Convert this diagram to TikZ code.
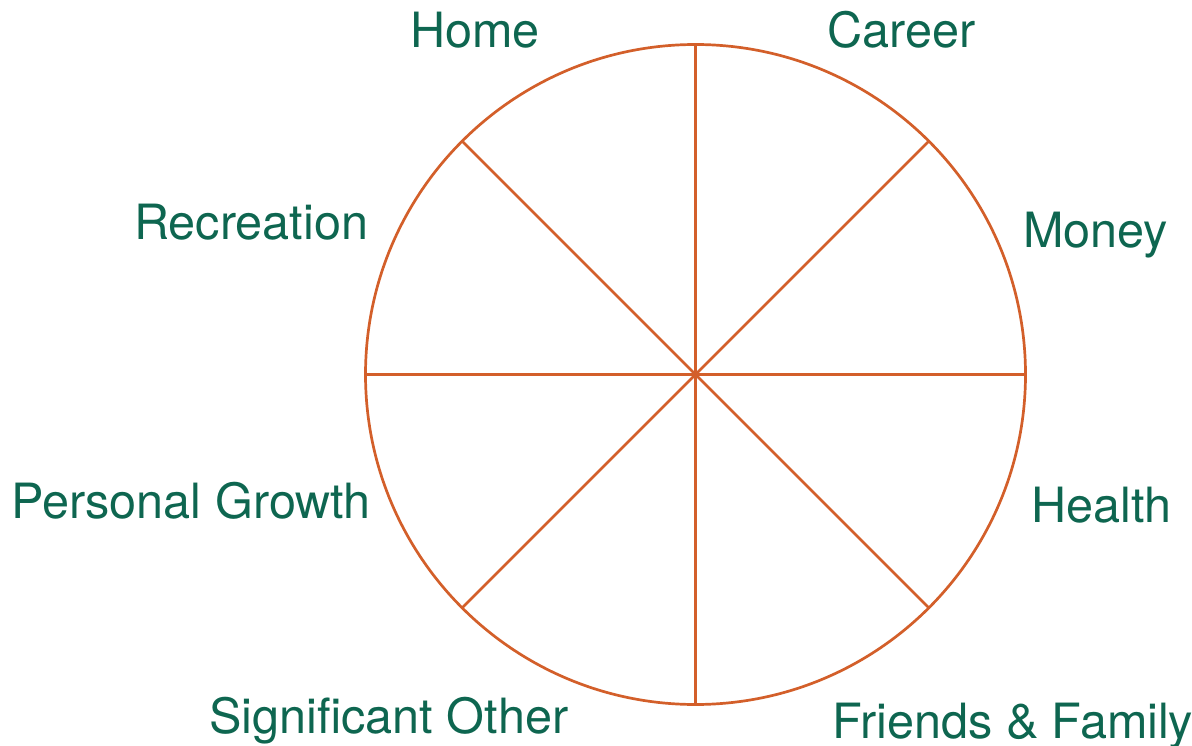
\documentclass[tikz,border=0pt]{standalone}
\usepackage{fontspec}
\setmainfont{TeX Gyre Heros}
\definecolor{labelgreen}{HTML}{0E6650}
\definecolor{wheelorange}{HTML}{D35F2A}
\begin{document}
\begin{tikzpicture}[x=1pt,y=-1pt,
  lbl/.style={anchor=base west,inner sep=0pt,text=labelgreen,font=\fontsize{48.6pt}{58pt}\selectfont},
  wheel/.style={draw=wheelorange,line width=2.7pt},
  spoke/.style={draw=wheelorange,line width=2.5pt}]
\useasboundingbox (0,0) rectangle (1192,746);
\node[wheel,circle,minimum size=660pt,inner sep=0pt,outer sep=0pt] (w) at (695.5,374.5) {};
\draw[spoke] (w.north) -- (w.south);
\draw[spoke] (w.west) -- (w.east);
\draw[spoke] (w.45) -- (w.225);
\draw[spoke] (w.135) -- (w.315);
\node[lbl] (home) at (410,48) {Home};
\node[lbl] (career) at (827,48) {Career};
\node[lbl] (money) at (1023,248) {Money};
\node[lbl] (recreation) at (134,240) {Recreation};
\node[lbl] (health) at (1031,522) {Health};
\node[lbl] (growth) at (11,518) {Personal Growth};
\node[lbl] (other) at (209,733) {Significant Other};
\node[lbl] (friends) at (832,738) {Friends \& Family};
\end{tikzpicture}
\end{document}
